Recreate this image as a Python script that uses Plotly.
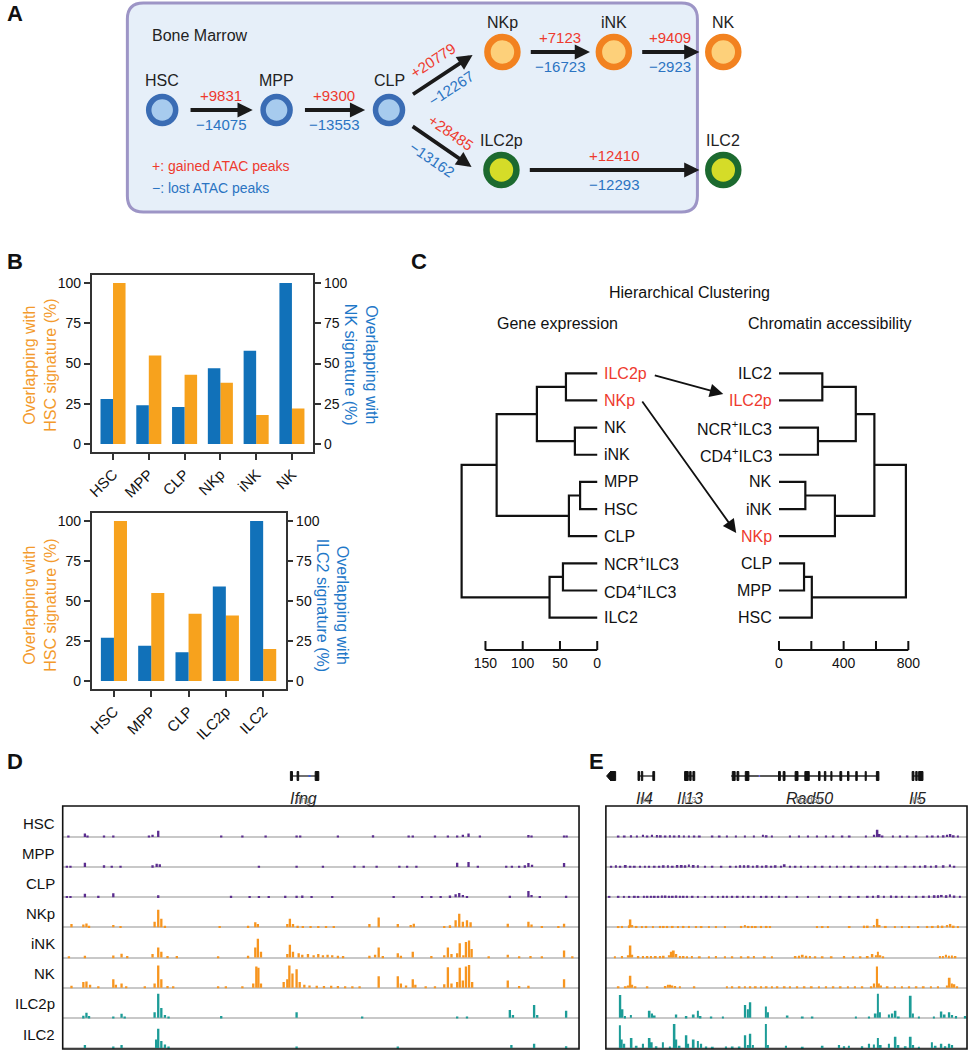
import math
import plotly.graph_objects as go

W, H = 970, 1050
FONT = "Arial, 'Liberation Sans', Helvetica, sans-serif"


def X(px):
    return px / W


def Y(py):
    return 1 - py / H


# ---------------- Panel A data ----------------
node_names = ["HSC", "MPP", "CLP", "NKp", "iNK", "NK", "ILC2p", "ILC2"]
node_x = [158, 273, 386, 500, 612, 722, 499, 722]
node_y = [110, 110, 110, 52, 52, 52, 170, 170]
node_kind = ["stem", "stem", "stem", "nk", "nk", "nk", "ilc2", "ilc2"]
edge_from = ["HSC", "MPP", "CLP", "NKp", "iNK", "CLP", "ILC2p"]
edge_to = ["MPP", "CLP", "NKp", "iNK", "NK", "ILC2p", "ILC2"]
gained = [9831, 9300, 20779, 7123, 9409, 28485, 12410]
lost = [14075, 13553, 12267, 16723, 2923, 13162, 12293]

# ---------------- Panel B data ----------------
b_cats_top = ["HSC", "MPP", "CLP", "NKp", "iNK", "NK"]
b_hsc_top = [100, 55, 43, 38, 18, 22]
b_nk_top = [28, 24, 23, 47, 58, 100]
b_cats_bot = ["HSC", "MPP", "CLP", "ILC2p", "ILC2"]
b_hsc_bot = [100, 55, 42, 41, 20]
b_ilc2_bot = [27, 22, 18, 59, 100]
b_ticks = [0, 25, 50, 75, 100]

# ---------------- Panel C data ----------------
c_left_leaves = ["ILC2p", "NKp", "NK", "iNK", "MPP", "HSC", "CLP", "NCR+ILC3", "CD4+ILC3", "ILC2"]
c_left_merges = [("ILC2p", "NKp", 42, "a"), ("NK", "iNK", 30, "b"), ("a", "b", 81, "c"),
                 ("MPP", "HSC", 23, "d"), ("d", "CLP", 38, "e"), ("c", "e", 135, "f"),
                 ("NCR+ILC3", "CD4+ILC3", 46, "g"), ("g", "ILC2", 64, "h"), ("f", "h", 182, "root")]
c_right_leaves = ["ILC2", "ILC2p", "NCR+ILC3", "CD4+ILC3", "NK", "iNK", "NKp", "CLP", "MPP", "HSC"]
c_right_merges = [("ILC2", "ILC2p", 268, "a"), ("NCR+ILC3", "CD4+ILC3", 241, "b"), ("a", "b", 475, "c"),
                  ("NK", "iNK", 163, "d"), ("d", "NKp", 346, "e"), ("c", "e", 590, "f"),
                  ("CLP", "MPP", 155, "g"), ("g", "HSC", 203, "h"), ("f", "h", 785, "root")]
c_left_ticks = [0, 50, 100, 150]
c_left_ticklabels = ["0", "50", "100", "150"]
c_right_ticks = [0, 200, 400, 600, 800]
c_right_ticklabels = ["0", "", "400", "", "800"]
c_highlight = ["ILC2p", "NKp"]

# ---------------- Panel D data (position % of window, height fraction) ----------------
d_track_names = ["HSC", "MPP", "CLP", "NKp", "iNK", "NK", "ILC2p", "ILC2"]
d_tracks = [
    [(1.1, .04), (4.3, .12), (4.8, .05), (8, .04), (9.8, .04), (16.7, .05), (17.4, .08), (18.5, .22),
     (30.7, .04), (34.8, .04), (39.3, .04), (45.3, .04), (46, .04), (53.3, .04), (60.1, .06), (67, .04),
     (67.8, .04), (72.1, .04), (74.6, .04), (76.4, .05), (77.5, .08), (78.6, .12), (80.8, .04), (90.2, .07),
     (90.8, .05), (97.1, .05), (97.6, .04)],
    [(0.8, .04), (1.5, .04), (4.3, .15), (8, .06), (9.5, .04), (11.2, .04), (17.4, .06), (18.2, .12),
     (18.8, .1), (38, .04), (45.3, .04), (50.4, .04), (56.5, .04), (58.3, .04), (60.8, .04), (65.2, .04),
     (66.7, .04), (68.5, .04), (76.4, .15), (78.6, .18), (80.4, .04), (85.9, .04), (87, .04), (88.4, .04),
     (89.5, .06), (90.2, .14), (90.9, .08), (97.1, .14)],
    [(0.8, .04), (1.5, .04), (4.3, .12), (6.9, .05), (9.8, .14), (18.5, .07), (32.6, .05), (36.2, .04),
     (38, .04), (39.9, .04), (43.1, .05), (45.3, .05), (46.4, .06), (48.2, .04), (52.2, .04), (64.1, .04),
     (69.6, .04), (71.4, .04), (73.2, .04), (75, .06), (76.1, .1), (76.8, .15), (77.5, .08), (78.3, .04),
     (86.6, .05), (90.2, .22), (90.8, .08), (92.4, .04), (97.5, .05)],
    [(1.7, .12), (4, .1), (4.6, .14), (5.1, .06), (9.8, .08), (11.2, .05), (17.8, .2), (18.5, .62),
     (19.1, .3), (19.8, .06), (30.4, .05), (35.9, .06), (37.3, .18), (37.8, .12), (43.5, .12), (44, .3),
     (44.6, .12), (45.5, .06), (46.5, .05), (48, .05), (49.5, .05), (51, .05), (52.5, .05), (59.4, .12),
     (61.2, .35), (64.9, .12), (67.4, .08), (68, .13), (73.9, .05), (75, .07), (76.1, .25), (76.8, .48),
     (77.5, .2), (78.3, .25), (79, .18), (86.2, .13), (90.2, .2), (90.8, .1), (92.8, .05), (96, .05),
     (97.1, .13)],
    [(1.2, .04), (4.3, .06), (9.8, .07), (11.4, .13), (12.5, .05), (17.4, .12), (18.5, .35), (19.1, .2),
     (20.3, .05), (22.1, .05), (30.1, .04), (35.9, .06), (37.3, .35), (37.8, .66), (38.4, .2), (43.5, .12),
     (44, .45), (44.6, .2), (45.7, .15), (46.4, .1), (47.5, .12), (48.6, .08), (49.5, .12), (50.4, .08),
     (51.3, .1), (52.2, .08), (53.3, .06), (54.3, .05), (59.4, .06), (60.5, .1), (61.2, .35), (62, .05),
     (64.9, .15), (65.5, .06), (67.8, .2), (71.4, .05), (73.9, .08), (74.6, .35), (75.3, .12), (76.4, .15),
     (76.9, .5), (77.6, .08), (78.1, .55), (78.7, .6), (79.2, .3), (82.5, .04), (86.2, .1), (88.4, .04),
     (90.6, .05), (92.8, .04), (97.1, .25), (98.7, .04)],
    [(1.7, .07), (4, .2), (4.6, .22), (5.3, .1), (6.9, .05), (9.8, .3), (10.3, .1), (11.4, .15), (12.3, .05),
     (15.9, .05), (17.8, .15), (18.5, .78), (19.1, .3), (20.3, .06), (21.4, .05), (30.1, .04), (31.6, .04),
     (34.8, .04), (36.9, .15), (37.5, .75), (37.9, .7), (38.4, .15), (42.8, .2), (43.5, .3), (43.9, .78),
     (44.5, .5), (45.3, .65), (45.9, .2), (46.8, .1), (47.8, .08), (49.2, .07), (50.6, .06), (52, .07),
     (53.3, .06), (54.7, .05), (56.1, .05), (57.5, .04), (61.2, .4), (64.9, .4), (65.5, .15), (66.5, .08),
     (67.8, .3), (68.3, .1), (70.3, .05), (72.1, .05), (73.9, .12), (74.6, .72), (75.3, .15), (76.4, .2),
     (76.9, .7), (77.5, .25), (78.1, .75), (78.7, .8), (79.3, .2), (86.2, .25), (88.4, .06), (90.2, .07),
     (97.1, .3)],
    [(4, .07), (4.6, .18), (5.1, .06), (9.8, .05), (11.4, .14), (12, .05), (17.8, .2), (18.5, .85),
     (19.1, .35), (19.8, .1), (20.5, .04), (30.7, .06), (45.3, .2), (58, .05), (76.4, .04), (78.3, .04),
     (86.6, .28), (87.2, .1), (91.3, .45), (91.9, .1), (97.5, .25)],
    [(4.3, .1), (9.8, .05), (11.4, .1), (18.1, .3), (18.5, .68), (19.1, .25), (19.8, .12), (20.5, .05),
     (45.3, .05), (64.9, .05), (86.9, .1), (91.3, .15), (97.5, .06)],
]
d_gene_name = "Ifng"
d_gene_line = (44.3, 49.6)
d_gene_exons = [(44.1, 44.5), (45.4, 45.7), (48.9, 49.6)]
d_gene_label_x = 46.7

# ---------------- Panel E data ----------------
e_tracks = [
    [(3.5, .05), (5.2, .04), (7, .06), (8.6, .05), (10.3, .08), (11.5, .05), (12.8, .08), (14.1, .07),
     (15.2, .06), (16.5, .05), (17.7, .06), (19, .05), (20.3, .06), (21.6, .05), (23, .05), (24.5, .05),
     (26, .05), (29.5, .04), (31.5, .04), (33.5, .04), (36, .04), (38.5, .04), (41, .04), (43.5, .08),
     (44.5, .06), (46, .05), (51, .04), (53.5, .04), (56, .04), (58.5, .04), (61, .05), (63, .04),
     (65.5, .04), (67.5, .04), (72, .04), (74.3, .08), (75.2, .25), (75.8, .1), (76.6, .05), (79.5, .04),
     (81.5, .04), (83.5, .04), (86, .04), (89, .04), (90.5, .04), (92, .05), (93.5, .06), (94.5, .08),
     (95.4, .1), (96.3, .06), (97.5, .04)],
    [(1.5, .04), (2.8, .06), (4, .05), (5.5, .07), (6.8, .05), (8, .05), (9.5, .04), (10.8, .05), (12, .05),
     (13.5, .05), (14.8, .05), (16, .06), (17.2, .06), (18.5, .05), (19.8, .07), (21, .07), (22, .06),
     (23, .09), (24.3, .07), (25.5, .06), (27.5, .05), (29.5, .04), (32, .04), (34.5, .04), (36, .05),
     (37.2, .06), (38.3, .06), (39.5, .06), (40.7, .05), (42, .06), (43.3, .05), (44.5, .06), (45.8, .05),
     (47, .06), (48.5, .05), (49.5, .1), (51, .05), (52.5, .04), (54, .05), (56, .05), (58, .04), (60, .05),
     (62, .05), (64, .05), (66, .04), (68, .05), (70, .04), (72, .04), (74.5, .05), (76, .04), (78, .04),
     (80.5, .04), (83, .04), (85.5, .05), (87, .05), (88.5, .06), (90, .05), (91.5, .06), (93.5, .06),
     (95.3, .09), (96.5, .05)],
    [(1, .04), (3.5, .05), (5, .04), (6.5, .04), (8, .05), (9, .04), (10.5, .05), (11.5, .05), (12.5, .05),
     (13.5, .05), (14.5, .05), (15.5, .06), (16.5, .06), (17.5, .05), (18.5, .05), (19.5, .06), (20.5, .05),
     (21.5, .05), (22.5, .05), (24, .05), (25.5, .04), (27.5, .04), (29.5, .05), (31, .04), (32.5, .05),
     (33.5, .05), (35, .05), (36.5, .05), (38, .05), (39.5, .04), (41, .05), (43, .04), (44.5, .05),
     (46, .04), (48, .05), (50, .04), (53, .04), (56, .04), (59, .04), (62, .04), (65, .04), (67.5, .04),
     (70, .04), (72.5, .05), (74, .05), (75.5, .07), (77, .05), (79, .06), (80.5, .05), (82, .05),
     (84, .05), (86, .05), (88, .05), (89.5, .06), (91, .07), (92, .07), (93, .08), (94.3, .07), (95.3, .1),
     (96.5, .06), (98, .05)],
    [(3.5, .04), (4.5, .05), (6.4, .07), (6.8, .28), (7.3, .08), (8.5, .05), (10, .04), (11.2, .05),
     (13, .04), (15, .05), (16, .05), (17, .05), (18.5, .05), (20, .04), (21.5, .05), (23, .05), (25, .04),
     (26.5, .04), (28.5, .04), (30.5, .04), (33, .04), (37.5, .05), (38.5, .08), (39.5, .05), (40.5, .05),
     (41.5, .04), (43, .05), (44.5, .05), (45.5, .04), (58.5, .04), (60, .04), (61.5, .04), (67.5, .04),
     (71.5, .06), (72.5, .06), (74.2, .08), (75.2, .3), (75.8, .08), (77.5, .05), (80, .04), (82, .04),
     (84, .04), (86.5, .04), (89, .05), (90.5, .05), (92, .07), (93.2, .06), (94.5, .08), (95.4, .12),
     (96.3, .06), (97.5, .04)],
    [(2.5, .04), (4.5, .05), (6.2, .08), (6.8, .42), (7.3, .1), (9, .05), (10.3, .05), (11.5, .05),
     (12.5, .05), (13.8, .05), (15, .05), (16, .06), (17.5, .08), (18.2, .2), (18.8, .25), (19.5, .12),
     (20.5, .05), (21.5, .05), (22.5, .04), (23.8, .05), (26, .04), (28.5, .04), (30.5, .05), (33, .04),
     (35, .04), (37.5, .04), (39.5, .04), (41, .05), (44, .04), (46, .04), (52.5, .05), (53.5, .06),
     (54.5, .1), (55.5, .06), (56.5, .05), (58, .04), (60, .04), (62.5, .04), (66, .05), (68.5, .04),
     (70.5, .04), (72.5, .05), (73.8, .12), (74.8, .08), (75.3, .2), (76, .08), (76.8, .04), (92.5, .05),
     (93.3, .05), (94.2, .1), (95, .06), (95.8, .07), (96.8, .05)],
    [(3.5, .04), (5.5, .05), (6.2, .08), (6.8, .42), (7.3, .1), (8.2, .04), (11.5, .04), (16.5, .06),
     (17.2, .1), (17.8, .1), (18.4, .08), (19.2, .06), (20.5, .04), (24.5, .04), (33.5, .04), (35, .04),
     (37, .04), (38.5, .04), (40, .04), (41.5, .05), (43, .04), (44.5, .04), (46, .05), (47.5, .04),
     (49.5, .04), (51, .04), (53, .04), (55, .04), (57, .04), (59, .04), (61, .04), (63, .04), (65, .04),
     (67, .04), (69, .04), (71, .04), (73.5, .05), (74.3, .15), (75.1, .75), (75.6, .15), (76.2, .08),
     (78, .04), (80, .04), (82, .04), (84, .04), (86, .04), (88, .04), (90, .04), (92, .04), (94.4, .08),
     (95.2, .35), (95.8, .15), (96.5, .12), (97.3, .05)],
    [(4, .81), (4.6, .3), (5.3, .06), (6.9, .1), (12.1, .25), (12.8, .15), (13.5, .08), (19.5, .12),
     (22.3, .06), (24.3, .12), (25.5, .25), (26.2, .06), (29.2, .04), (32.4, .04), (38.6, .45), (39.3, .3),
     (40, .55), (44.3, .4), (44.9, .2), (50.3, .08), (54.5, .04), (57.2, .04), (69.2, .04), (72.9, .05),
     (74.7, .15), (75.3, .85), (75.9, .2), (78.4, .12), (79.3, .15), (80.2, .25), (81.1, .05), (84.4, .78),
     (85, .15), (86.7, .04), (90.8, .05), (92.9, .22), (93.8, .12), (95.1, .2), (95.9, .1), (97, .06),
     (99.5, .06)],
    [(3.9, .8), (4.4, .3), (5.1, .15), (7.1, .35), (8.5, .08), (10.3, .15), (12.1, .35), (12.7, .2),
     (14, .06), (15.8, .2), (17.7, .05), (19, .85), (19.5, .3), (20.4, .08), (22.3, .45), (22.8, .15),
     (24.3, .3), (25.5, .25), (26.4, .15), (27.8, .05), (29.6, .04), (33.3, .05), (35.1, .05), (37, .05),
     (38.6, .45), (39.3, .1), (40, .5), (40.7, .1), (44.3, .85), (44.9, .1), (49.9, .08), (54.5, .04),
     (60, .08), (64.6, .1), (66, .06), (67.3, .08), (71, .06), (72.9, .15), (74.2, .12), (75.3, .35),
     (76.1, .1), (78.4, .15), (80.2, .4), (81, .1), (83, .06), (84.4, .4), (85.1, .1), (86.7, .04),
     (90.3, .2), (91.3, .08), (92.9, .15), (94, .06), (95.1, .15), (95.9, .1)],
]
e_gene_names = ["", "Il4", "Il13", "Rad50", "Il5"]
e_gene_lines = [(0.7, 2.7), (8.9, 13.5), (21.8, 24.6), (34.7, 75.6), (84.8, 87.8)]
e_gene_exons = [
    [(1.3, 2.7)],
    [(8.9, 9.3), (9.8, 10.2), (13.0, 13.5)],
    [(21.8, 22.8), (23.2, 23.6), (24.1, 24.6)],
    [(35.0, 35.8), (36.3, 36.8), (38.6, 39.6), (47.8, 48.3), (49.1, 49.6), (52.4, 53.2), (55.1, 56.3),
     (58.9, 59.3), (60.5, 60.9), (62.3, 62.6), (64.8, 65.3), (66.9, 67.3), (69.2, 69.6), (71.8, 72.1),
     (74.9, 75.6)],
    [(84.8, 85.3), (85.8, 86.2), (86.6, 87.8)],
]
e_gene_label_x = [None, 10.8, 23.2, 56.5, 86.2]

# ---------------- colours ----------------
RED = "#ee3a2e"
TXTBLUE = "#2b74c2"
BAR_BLUE = "#1171b9"
BAR_ORANGE = "#f7a21d"
TITLE_ORANGE = "#f39a2c"
TITLE_BLUE = "#1f78c8"
AX = "#333333"
PURPLE = "#5b2d8f"
TRK_ORANGE = "#f7951f"
TEAL = "#1c9c97"
track_colors = [PURPLE, PURPLE, PURPLE, TRK_ORANGE, TRK_ORANGE, TRK_ORANGE, TEAL, TEAL]

fig = go.Figure()
annotations = []
shapes = []


def label(xp, yp, text, size=14, color="#111111", xanchor="center", yanchor="middle", angle=0,
          xref="paper", yref="paper", xshift=0, yshift=0):
    x = X(xp) if xref == "paper" else xp
    y = Y(yp) if yref == "paper" else yp
    annotations.append(dict(x=x, y=y, xref=xref, yref=yref, text=text, showarrow=False,
                            font=dict(family=FONT, size=size, color=color), xanchor=xanchor,
                            yanchor=yanchor, textangle=angle, xshift=xshift, yshift=yshift,
                            borderpad=0))


# ---------------- Panel letters ----------------
label(1, 14, "<b>A</b>", 22, "#111", xanchor="left")
label(1, 262, "<b>B</b>", 22, "#111", xanchor="left")
label(407, 262, "<b>C</b>", 22, "#111", xanchor="left")
label(1, 761, "<b>D</b>", 22, "#111", xanchor="left")
label(586, 761, "<b>E</b>", 22, "#111", xanchor="left")

# ---------------- Panel A ----------------
bx0, bx1, by0, by1, rr = 123, 696, 3, 212, 16
box_path = (f"M{bx0 + rr},{by0} L{bx1 - rr},{by0} Q{bx1},{by0} {bx1},{by0 + rr} "
            f"L{bx1},{by1 - rr} Q{bx1},{by1} {bx1 - rr},{by1} L{bx0 + rr},{by1} "
            f"Q{bx0},{by1} {bx0},{by1 - rr} L{bx0},{by0 + rr} Q{bx0},{by0} {bx0 + rr},{by0} Z")
shapes.append(dict(type="path", path=box_path, xref="x", yref="y", fillcolor="#e6eff9",
                   line=dict(color="#9d95c6", width=3), layer="below"))
label(147, 35, "Bone Marrow", 16, "#222", xanchor="left", xref="x", yref="y")
label(147, 166, "+: gained ATAC peaks", 14, RED, xanchor="left", xref="x", yref="y")
label(147, 188, "\u2212: lost ATAC peaks", 14, TXTBLUE, xanchor="left", xref="x", yref="y")

kind_style = {"stem": ("#a7cbee", "#3a6cb4", 27, 5.5),
              "nk": ("#fdd07a", "#f28220", 30, 6.5),
              "ilc2": ("#d5dc28", "#1c6a2f", 30, 6.5)}
for kind, (fill, edge, size, lw) in kind_style.items():
    idx = [i for i, k in enumerate(node_kind) if k == kind]
    fig.add_trace(go.Scatter(x=[node_x[i] for i in idx], y=[node_y[i] for i in idx], mode="markers",
                             marker=dict(size=size, color=fill, line=dict(color=edge, width=lw)),
                             xaxis="x", yaxis="y", hoverinfo="skip", showlegend=False))
for n, xx, yy in zip(node_names, node_x, node_y):
    label(xx, yy - 30, n, 16, "#222", xref="x", yref="y")

pos = {n: (xx, yy) for n, xx, yy in zip(node_names, node_x, node_y)}
GAP_T = 27
for f, t, g, l in zip(edge_from, edge_to, gained, lost):
    fx, fy = pos[f]
    tx, ty = pos[t]
    if ty == fy:
        hx, hy = tx - 24, ty
        off_up, off_dn = 15, 14
    else:
        sgn = 1 if ty > fy else -1
        hx, hy = tx - 30, ty - 3 * sgn
        off_up, off_dn = 17, 16
    dx, dy = hx - fx, hy - fy
    L = math.hypot(dx, dy)
    ux, uy = dx / L, dy / L
    sx, sy = fx + GAP_T * ux, fy + GAP_T * uy
    annotations.append(dict(x=hx, y=hy, ax=sx, ay=sy, xref="x", yref="y", axref="x", ayref="y",
                            showarrow=True, arrowhead=2, arrowsize=0.8, arrowwidth=3.8,
                            arrowcolor="#1a1a1a", text=""))
    mx, my = (sx + hx) / 2, (sy + hy) / 2
    nx, ny = uy, -ux
    ang = math.degrees(math.atan2(uy, ux))
    label(mx + off_up * nx, my + off_up * ny, f"+{g}", 15, RED, angle=ang, xref="x", yref="y")
    label(mx - off_dn * nx, my - off_dn * ny, f"\u2212{l}", 15, TXTBLUE, angle=ang, xref="x", yref="y")

# ---------------- Panel B ----------------
fig.add_trace(go.Bar(x=b_cats_top, y=b_nk_top, xaxis="x2", yaxis="y3", marker_color=BAR_BLUE,
                     width=0.35, offset=-0.35, showlegend=False, marker_line_width=0))
fig.add_trace(go.Bar(x=b_cats_top, y=b_hsc_top, xaxis="x2", yaxis="y2", marker_color=BAR_ORANGE,
                     width=0.35, offset=0, showlegend=False, marker_line_width=0))
fig.add_trace(go.Bar(x=b_cats_bot, y=b_ilc2_bot, xaxis="x3", yaxis="y5", marker_color=BAR_BLUE,
                     width=0.35, offset=-0.35, showlegend=False, marker_line_width=0))
fig.add_trace(go.Bar(x=b_cats_bot, y=b_hsc_bot, xaxis="x3", yaxis="y4", marker_color=BAR_ORANGE,
                     width=0.35, offset=0, showlegend=False, marker_line_width=0))

label(35, 365, "Overlapping with<br>HSC signature (%)", 16, TITLE_ORANGE, angle=-90)
label(358, 365, "Overlapping with<br>NK signature (%)", 16, TITLE_BLUE, angle=90)
label(35, 605, "Overlapping with<br>HSC signature (%)", 16, TITLE_ORANGE, angle=-90)
label(329, 605, "Overlapping with<br>ILC2 signature (%)", 16, TITLE_BLUE, angle=90)

# ---------------- Panel C ----------------
ROW0, ROWSTEP = 373.3, 27.15
R_PXU = 0.1625  # right tree px per unit


def dendro(leaves, merges):
    p = {name: (i, 0.0) for i, name in enumerate(leaves)}
    xs, ys = [], []
    for a, b, h, name in merges:
        ra, ha = p[a]
        rb, hb = p[b]
        xs += [ha, h, h, hb, None]
        ys += [ra, ra, rb, rb, None]
        p[name] = ((ra + rb) / 2, h)
    return xs, ys


lx, ly = dendro(c_left_leaves, c_left_merges)
rx, ry = dendro(c_right_leaves, c_right_merges)
fig.add_trace(go.Scatter(x=lx, y=ly, mode="lines", line=dict(color="#111", width=2.2),
                         xaxis="x4", yaxis="y6", hoverinfo="skip", showlegend=False))
fig.add_trace(go.Scatter(x=rx, y=ry, mode="lines", line=dict(color="#111", width=2.2),
                         xaxis="x5", yaxis="y6", hoverinfo="skip", showlegend=False))


def leaf_text(n):
    return n.replace("+", "<sup>+</sup>")


for i, n in enumerate(c_left_leaves):
    label(0, i, leaf_text(n), 16, RED if n in c_highlight else "#111", xanchor="left",
          xref="x4", yref="y6", xshift=6)
for i, n in enumerate(c_right_leaves):
    label(0, i, leaf_text(n), 16, RED if n in c_highlight else "#111", xanchor="right",
          xref="x5", yref="y6", xshift=-6)

SCALE_ROW = (650 - ROW0) / ROWSTEP
TICK_ROW = (641 - ROW0) / ROWSTEP
LAB_ROW = (664 - ROW0) / ROWSTEP


def scale_bar(ticks, ticklabels, xa):
    xs = [min(ticks), max(ticks), None]
    ys = [SCALE_ROW, SCALE_ROW, None]
    for t in ticks:
        xs += [t, t, None]
        ys += [SCALE_ROW, TICK_ROW, None]
    fig.add_trace(go.Scatter(x=xs, y=ys, mode="lines", line=dict(color="#111", width=2),
                             xaxis=xa, yaxis="y6", hoverinfo="skip", showlegend=False))
    fig.add_trace(go.Scatter(x=ticks, y=[LAB_ROW] * len(ticks), mode="text", text=ticklabels,
                             textfont=dict(family=FONT, size=14, color="#111"), cliponaxis=False,
                             xaxis=xa, yaxis="y6", hoverinfo="skip", showlegend=False))


scale_bar(c_left_ticks, c_left_ticklabels, "x4")
scale_bar(c_right_ticks, c_right_ticklabels, "x5")

label(688, 293, "Hierarchical Clustering", 16, "#111")
label(555, 323, "Gene expression", 16, "#111")
label(829, 323, "Chromatin accessibility", 16, "#111")
for (hx_, hy_, tx_, ty_) in [(722, 394, 652, 375), (735, 533, 640, 400)]:
    annotations.append(dict(x=X(hx_), y=Y(hy_), xref="paper", yref="paper", ax=tx_ - hx_, ay=ty_ - hy_,
                            showarrow=True, arrowhead=2, arrowsize=1.5, arrowwidth=1.8,
                            arrowcolor="#111", text=""))

# ---------------- Panels D and E: tracks ----------------
BASE0, BSTEP, TH = 837, 30.15, 30
for panel, tracks, xa, yoff, bw in [("D", d_tracks, "x6", 7, 0.45), ("E", e_tracks, "x7", 15, 0.5)]:
    for i, tr in enumerate(tracks):
        fig.add_trace(go.Bar(x=[p for p, h in tr], y=[h for p, h in tr], width=bw,
                             marker=dict(color=track_colors[i], line=dict(width=0)),
                             xaxis=xa, yaxis=f"y{yoff + i}", hoverinfo="skip", showlegend=False))

for i, n in enumerate(d_track_names):
    label(51, BASE0 + BSTEP * i - 14, n, 15, "#111", xanchor="right")

# frames
shapes.append(dict(type="rect", xref="paper", yref="paper", x0=X(58), x1=X(577), y0=Y(1049), y1=Y(806),
                   line=dict(color="#111", width=1.6), fillcolor="rgba(0,0,0,0)"))
shapes.append(dict(type="rect", xref="paper", yref="paper", x0=X(604), x1=X(967), y0=Y(1049), y1=Y(806),
                   line=dict(color="#111", width=1.6), fillcolor="rgba(0,0,0,0)"))

GENE_Y = 776


def gene(xa, line_span, exons, h=9):
    shapes.append(dict(type="line", xref=xa, yref="paper", x0=line_span[0], x1=line_span[1],
                       y0=Y(GENE_Y), y1=Y(GENE_Y), line=dict(color="#222", width=1.3)))
    for a, b in exons:
        shapes.append(dict(type="rect", xref=xa, yref="paper", x0=a, x1=b, y0=Y(GENE_Y + h / 2),
                           y1=Y(GENE_Y - h / 2), fillcolor="#111", line=dict(color="#111", width=1)))


gene("x6", d_gene_line, d_gene_exons)
shapes.append(dict(type="line", xref="x6", yref="paper", x0=47.6, x1=48.0, y0=Y(GENE_Y), y1=Y(GENE_Y),
                   line=dict(color="#3b5bd6", width=2)))
label(d_gene_label_x, GENE_Y + 22, "<i>" + d_gene_name + "</i>", 16, "#222", xref="x6")
label(d_gene_label_x, GENE_Y + 24, d_gene_name, 9, "#777", xref="x6")

for nm, ln, ex, lx_ in zip(e_gene_names, e_gene_lines, e_gene_exons, e_gene_label_x):
    gene("x7", ln, ex)
    if nm:
        label(lx_, GENE_Y + 22, "<i>" + nm + "</i>", 16, "#222", xref="x7")
        label(lx_, GENE_Y + 24, nm, 9, "#777", xref="x7")
shapes.append(dict(type="path", xref="x7", yref="paper",
                   path=f"M0.2,{Y(GENE_Y)} L1.4,{Y(GENE_Y - 5)} L1.4,{Y(GENE_Y + 5)} Z",
                   fillcolor="#111", line=dict(color="#111", width=1)))
shapes.append(dict(type="line", xref="x7", yref="paper", x0=42.3, x1=42.7, y0=Y(GENE_Y), y1=Y(GENE_Y),
                   line=dict(color="#6a6ad8", width=2)))

# ---------------- layout / axes ----------------
hidden = dict(visible=False, showgrid=False, zeroline=False, fixedrange=True)
tickfont = dict(family=FONT, size=14, color="#111")
baxis_y = dict(range=[-5, 105], tickvals=b_ticks, showline=True, linecolor=AX, linewidth=1.5,
               ticks="outside", ticklen=6, tickwidth=1.5, tickcolor=AX, tickfont=tickfont,
               showgrid=False, zeroline=False)
baxis_x = dict(showline=True, mirror=True, linecolor=AX, linewidth=1.5, ticks="outside", ticklen=6,
               tickwidth=1.5, tickcolor=AX, tickangle=-45, tickfont=dict(family=FONT, size=15, color="#111"),
               showgrid=False, zeroline=False, type="category")

layout = dict(
    width=W, height=H, margin=dict(l=0, r=0, t=0, b=0), autosize=False,
    paper_bgcolor="white", plot_bgcolor="rgba(0,0,0,0)", barmode="overlay", showlegend=False,
    font=dict(family=FONT),
    xaxis=dict(hidden, domain=[0, 1], range=[0, W], anchor="y"),
    yaxis=dict(hidden, domain=[Y(225), 1], range=[225, 0], anchor="x"),
    xaxis2=dict(baxis_x, domain=[X(87), X(310)], range=[-0.6, 5.6], anchor="y2"),
    yaxis2=dict(baxis_y, domain=[Y(452), Y(275)], anchor="x2"),
    yaxis3=dict(baxis_y, overlaying="y2", side="right", anchor="x2"),
    xaxis3=dict(baxis_x, domain=[X(87), X(282)], range=[-0.6, 4.6], anchor="y4"),
    yaxis4=dict(baxis_y, domain=[Y(689), Y(513)], anchor="x3"),
    yaxis5=dict(baxis_y, overlaying="y4", side="right", anchor="x3"),
    xaxis4=dict(hidden, domain=[X(445), X(600)], range=[(595.3 - 445) / 0.749, (595.3 - 600) / 0.749],
                anchor="y6"),
    xaxis5=dict(hidden, domain=[X(770), X(925)], range=[(770 - 778) / R_PXU, (925 - 778) / R_PXU],
                anchor="y6"),
    yaxis6=dict(hidden, domain=[Y(680), Y(355)], range=[(680 - ROW0) / ROWSTEP, (355 - ROW0) / ROWSTEP],
                anchor="x4"),
    xaxis6=dict(hidden, domain=[X(58), X(577)], range=[0, 100], anchor="y14"),
    xaxis7=dict(hidden, domain=[X(604), X(967)], range=[0, 100], anchor="y22"),
    annotations=annotations, shapes=shapes,
)
for panel_off, xa in [(7, "x6"), (15, "x7")]:
    for i in range(8):
        base = BASE0 + BSTEP * i
        layout[f"yaxis{panel_off + i}"] = dict(
            domain=[max(0, Y(base + 1.6)), Y(base + 1.6 - TH)], range=[-0.06, 1.0], anchor=xa,
            showticklabels=False, ticks="", showline=False, showgrid=False, zeroline=True,
            zerolinecolor="#c8c8c8", zerolinewidth=2, fixedrange=True)

fig.update_layout(**layout)
fig.write_html("out.html", config={"displayModeBar": False},
               post_script="document.body.style.margin='0';document.body.style.overflow='hidden';")
